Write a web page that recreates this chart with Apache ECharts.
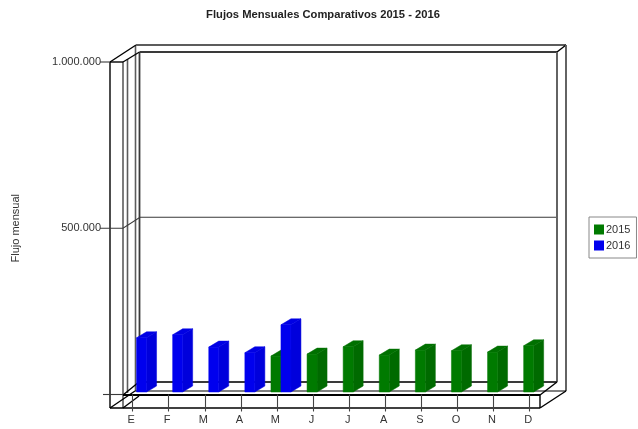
<!DOCTYPE html>
<html>
<head>
<meta charset="utf-8">
<style>
html,body{margin:0;padding:0;background:#fff;}
#main{width:638px;height:429px;filter:blur(0.35px);}
</style>
<script src="https://cdn.jsdelivr.net/npm/echarts@6/dist/echarts.min.js"></script>
</head>
<body>
<div id="main"></div>
<script>
var months = ['E','F','M','A','M','J','J','A','S','O','N','D'];
var values2015 = [null,null,null,null,108000,114000,136000,111000,126000,124000,120000,139000];
var values2016 = [163000,172000,135000,118000,202000,null,null,null,null,null,null,null];
var valueTicks = [0,500000,1000000];
var seriesNames = ['2015','2016'];

var DARK='#000000', MID='#3a3a3a', LIGHT='#5c5c5c';

function fmt(v){ return v===0 ? '' : String(v).replace(/\B(?=(\d{3})+(?!\d))/g,'.'); }

function pts(data){ var o=[]; data.forEach(function(v,i){ if(v!==null) o.push([i,v]); }); return o; }

function barRenderer(front,side,top,shift){
  return function(params,api){
    var c=api.coord([api.value(0),api.value(1)]);
    var z=api.coord([api.value(0),0]);
    var w=10, dx=10, dy=6, lift=2.5;
    var x0=c[0]+shift-w/2, x1=x0+w, yt=c[1]-lift, yb=z[1]-lift;
    return {type:'group',children:[
      {type:'polygon',shape:{points:[[x1,yt],[x1+dx,yt-dy],[x1+dx,yb-dy],[x1,yb]]},style:{fill:side,stroke:side,lineWidth:.5}},
      {type:'polygon',shape:{points:[[x0,yt],[x0+dx,yt-dy],[x1+dx,yt-dy],[x1,yt]]},style:{fill:top,stroke:top,lineWidth:.5}},
      {type:'rect',shape:{x:x0,y:yt,width:w,height:yb-yt},style:{fill:front,stroke:front,lineWidth:.5}}
    ]};
  };
}

function gridRenderer(params,api){
  var v=api.value(0), y=api.coord([0,v])[1], p;
  if(v===0) p=[[103,y],[123,y]];
  else if(v===1000000) p=[[100,y],[110,y]];
  else p=[[100,y],[123,y],[140,y-11],[556,y-11]];
  return {type:'polyline',shape:{points:p},style:{fill:null,stroke:MID,lineWidth:1.1}};
}

function line(points,color,w){
  return {type:'polyline',z:-1,silent:true,shape:{points:points},style:{fill:null,stroke:color,lineWidth:w||1.4}};
}

var frame=[
  line([[110,62],[110,408]],DARK),
  line([[123,62],[123,408]],LIGHT,1.6),
  line([[127.5,59],[127.5,393]],LIGHT,1.6),
  line([[135.5,46],[135.5,391]],LIGHT,1.6),
  line([[139.5,52],[139.5,382]],MID,1.8),
  line([[110,62],[123,62]],DARK),
  line([[110,62],[136,45]],DARK),
  line([[123,62],[139.5,52]],DARK),
  line([[136,45],[566,45]],LIGHT,2),
  line([[139.5,52],[557,52]],MID,2),
  line([[557,52],[566,45]],DARK),
  line([[557,52],[557,382]],LIGHT,1.9),
  line([[566,45],[566,391]],LIGHT,1.9),
  line([[110,408],[540,408]],DARK),
  line([[123,395],[540,395]],DARK,2),
  line([[135,391],[566,391]],DARK,1.2),
  line([[139,382],[557,382]],MID,2),
  line([[540,395],[540,408]],DARK),
  line([[110,408],[135,391]],DARK),
  line([[123,408],[139,396]],DARK),
  line([[123,395],[139,382]],DARK),
  line([[540,395],[557,382]],DARK),
  line([[540,408],[566,391]],DARK)
];

var chart=echarts.init(document.getElementById('main'));
chart.setOption({
  animation:false,
  backgroundColor:'#fff',
  textStyle:{fontFamily:'"Liberation Sans",Arial,sans-serif'},
  title:{text:'Flujos Mensuales Comparativos 2015 - 2016',left:323,textAlign:'center',top:9,padding:0,
    textStyle:{fontSize:11.2,fontWeight:'bold',color:'#222',fontFamily:'"Liberation Sans",Arial,sans-serif'}},
  legend:{orient:'vertical',left:589,top:217,data:seriesNames,icon:'rect',itemWidth:10,itemHeight:10,itemGap:5,
    padding:[7,6,7,5],borderColor:'#888',borderWidth:1,backgroundColor:'#fff',selectedMode:false,
    textStyle:{fontSize:11,color:'#333',padding:[0,0,0,-3]}},
  grid:{left:114.5,top:62,width:433.2,height:332.5,containLabel:false,outerBoundsMode:'none'},
  xAxis:{type:'category',data:months,
    axisLine:{show:false},
    axisTick:{show:true,length:17,alignWithLabel:true,lineStyle:{color:'#444',width:1.1}},
    axisLabel:{interval:0,margin:20,fontSize:11,color:'#333',padding:[0,3,0,0]}},
  yAxis:{type:'value',min:0,max:1000000,interval:500000,
    name:'Flujo mensual',nameLocation:'middle',nameGap:93,nameTextStyle:{fontSize:11,color:'#333'},
    axisLine:{show:false},axisTick:{show:false},splitLine:{show:false},
    axisLabel:{margin:13.5,fontSize:11,color:'#333',formatter:fmt}},
  graphic:{elements:frame},
  series:[
    {name:'gridlines',type:'custom',silent:true,z:1,data:valueTicks.map(function(v){return [v];}),
      encode:{y:0},renderItem:gridRenderer},
    {name:seriesNames[0],type:'custom',z:3,itemStyle:{color:'#007a00'},data:pts(values2015),
      encode:{x:0,y:1},renderItem:barRenderer('#007a00','#006a00','#007000',-1)},
    {name:seriesNames[1],type:'custom',z:4,itemStyle:{color:'#0000ee'},data:pts(values2016),
      encode:{x:0,y:1},renderItem:barRenderer('#0000ee','#0000dc','#0000e4',9)}
  ]
});
</script>
</body>
</html>
